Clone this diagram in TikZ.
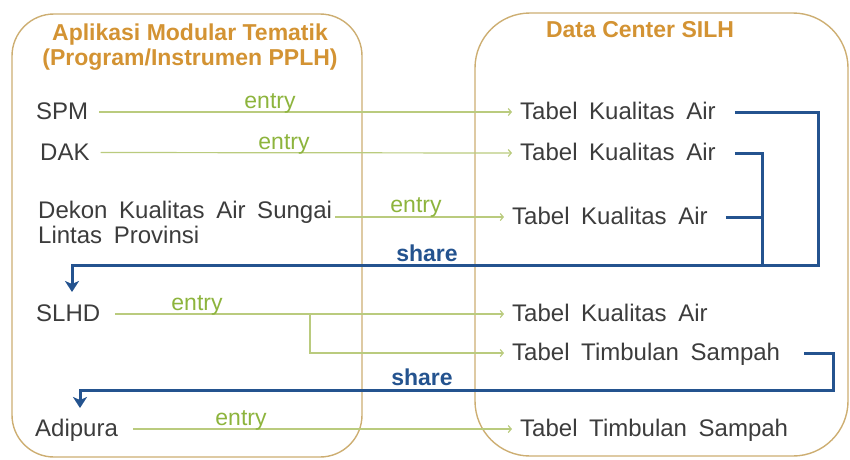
\documentclass[tikz,border=0pt]{standalone}
\usepackage{fontspec}
\setmainfont{Liberation Sans}
\newfontfamily\bodyfont{Liberation Sans}[WordSpace=1.75]
\usetikzlibrary{arrows.meta,calc}
\definecolor{boxtan}{HTML}{CDAE72}
\definecolor{titleorange}{HTML}{D39333}
\definecolor{textgray}{HTML}{3C3C3C}
\definecolor{entrygreen}{HTML}{8DB43D}
\definecolor{linegreen}{HTML}{BACB7E}
\definecolor{shareblue}{HTML}{24538F}
\begin{document}
\begin{tikzpicture}[x=1pt,y=-1pt,
  panel/.style={draw=boxtan,line width=1.4pt},
  paneltitle/.style={anchor=base,inner sep=0pt,text=titleorange,font=\bfseries\fontsize{23}{27}\selectfont},
  item/.style={anchor=west,inner sep=0pt,text height=17pt,text depth=2pt,text=textgray,font=\bodyfont\fontsize{24}{28}\selectfont},
  entrylbl/.style={anchor=base,inner sep=0pt,text=entrygreen,font=\fontsize{23}{27}\selectfont},
  sharelbl/.style={anchor=base,inner sep=0pt,text=shareblue,font=\bfseries\fontsize{23}{27}\selectfont},
  entryline/.style={draw=linegreen,line width=1.2pt,-{Straight Barb[length=3pt,width=7pt]}},
  shareline/.style={draw=shareblue,line width=3pt},
  sharearrow/.style={shareline,-{Stealth[length=11pt,width=14pt,inset=3pt]}}
]
\useasboundingbox (0,0) rectangle (850,459);

% the two panels
\draw[panel,rounded corners=42pt] (12,14) rectangle (362,457);
\draw[panel,rounded corners=55pt] (475,13) rectangle (848,456);

% panel titles
\node[paneltitle] (ltitleA) at (190,40) {Aplikasi Modular Tematik};
\node[paneltitle] (ltitleB) at (190,65) {(Program/Instrumen PPLH)};
\node[paneltitle] (rtitle) at (640,37) {Data Center SILH};

% modular applications
\node[item] (spm) at (36,112) {SPM};
\node[item] (dak) at (40,152.5) {DAK};
\node[item] (dekonA) at (38,210.5) {Dekon Kualitas Air Sungai};
\node[item] (dekonB) at (38,235.5) {Lintas Provinsi};
\node[item] (slhd) at (36,314) {SLHD};
\node[item] (adipura) at (35,429) {Adipura};

% data center tables
\node[item] (r1) at (520,112) {Tabel Kualitas Air};
\node[item] (r2) at (520,153) {Tabel Kualitas Air};
\node[item] (r3) at (512,217) {Tabel Kualitas Air};
\node[item] (r4) at (512,314) {Tabel Kualitas Air};
\node[item] (r5) at (512,353) {Tabel Timbulan Sampah};
\node[item] (r6) at (520,429) {Tabel Timbulan Sampah};

% entry connectors
\draw[entryline] ([xshift=11pt]spm.east) -- ([xshift=-8pt]r1.west);
\draw[entryline] ([xshift=11pt]dak.east) -- ([xshift=-8pt]r2.west);
\draw[entryline] ($(dekonA.east |- r3.west)+(3,0)$) -- ([xshift=-8pt]r3.west);
\draw[entryline] ([xshift=15pt]slhd.east) -- ([xshift=-8pt]r4.west);
\coordinate (fork) at (310,314);
\draw[entryline] (fork) |- ([xshift=-8pt]r5.west);
\draw[entryline] ([xshift=15pt]adipura.east) -- ([xshift=-8pt]r6.west);

\node[entrylbl] (e1) at (270,108) {entry};
\node[entrylbl] (e2) at (284,149) {entry};
\node[entrylbl] (e3) at (416,212) {entry};
\node[entrylbl] (e4) at (197,310) {entry};
\node[entrylbl] (e5) at (241,425) {entry};

% share connectors
\coordinate (tip1) at (72,292);
\coordinate (tip2) at (80,408);
\draw[sharearrow] ([xshift=19pt]r1.east) -| (818,265) -- (72,265) -- (tip1);
\draw[shareline] ([xshift=19pt]r2.east) -| (762,265);
\draw[shareline] ([xshift=18pt]r3.east) -- (762,217);
\draw[sharearrow] ([xshift=24pt]r5.east) -| (833,390) -- (80,390) -- (tip2);

\node[sharelbl] (s1) at (427,261) {share};
\node[sharelbl] (s2) at (422,385) {share};
\end{tikzpicture}
\end{document}
